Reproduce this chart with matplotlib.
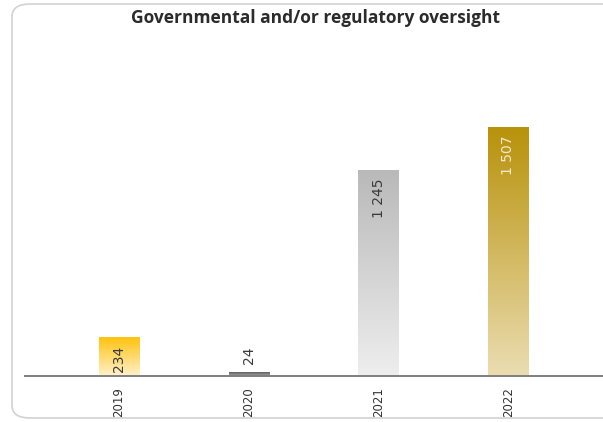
import numpy as np
import matplotlib.pyplot as plt
from matplotlib.colors import LinearSegmentedColormap
from matplotlib.patches import FancyBboxPatch

# =========================
# DATA
# =========================
TITLE = "Governmental and/or regulatory oversight"
years = ["2019", "2020", "2021", "2022"]
values = [234, 24, 1245, 1507]
value_labels = ["234", "24", "1 245", "1 507"]

# gradient colours per bar: (top, bottom)
grad_colors = [
    ("#FFC20E", "#FFF1CC"),
    ("#5E5E5E", "#A8A8A8"),
    ("#B9B9B9", "#EEEEEE"),
    ("#B8920A", "#EBDDB2"),
]
label_colors = ["#3A3A3A", "#3A3A3A", "#3A3A3A", "#F3EAD2"]

# =========================
# FIGURE
# =========================
fig = plt.figure(figsize=(6.03, 4.22), dpi=100)

# rounded card outline
card = FancyBboxPatch((12 / 603, 4 / 422), 1.2, 414 / 422,
                      boxstyle="round,pad=0,rounding_size=0.03",
                      transform=fig.transFigure, facecolor="none",
                      edgecolor="#D2D2D2", linewidth=1.2, zorder=0)
fig.patches.append(card)

fig.text(316 / 603, 1 - 18 / 422, TITLE, ha="center", va="center",
         fontsize=12.5, fontweight="bold", family="Open Sans", color="#2B2B2B")

ax = fig.add_axes([25 / 603, 46 / 422, 578 / 603, 336 / 422])
ax.patch.set_alpha(0)

x = np.arange(len(years))
width = 0.31
bars = ax.bar(x, values, width=width, color="none", edgecolor="none")

ymax = max(values) * 336 / 249
ax.set_ylim(0, ymax)
ax.set_xlim(-0.725, 3.73)

# fill each bar with a vertical gradient
for rect, (top, bottom) in zip(bars, grad_colors):
    cmap = LinearSegmentedColormap.from_list("g", [bottom, top])
    grad = np.linspace(0, 1, 256).reshape(-1, 1)
    x0, y0 = rect.get_x(), rect.get_y()
    ax.imshow(grad, cmap=cmap, origin="lower", aspect="auto",
              extent=[x0, x0 + rect.get_width(), y0, y0 + rect.get_height()],
              zorder=2)

# value labels (inside near the top, or above if the bar is too short)
for xi, v, lab, c in zip(x, values, value_labels, label_colors):
    if v > 150:
        ax.annotate(lab, (xi, v), xytext=(0, -6), textcoords="offset points",
                    ha="center", va="top", rotation=90, fontsize=10,
                    color=c, zorder=3)
    else:
        ax.annotate(lab, (xi, v), xytext=(0, 6), textcoords="offset points",
                    ha="center", va="bottom", rotation=90, fontsize=10,
                    color=c, zorder=3)

ax.set_xticks(x)
ax.set_xticklabels(years, rotation=90, fontsize=8.5, color="#333333")
ax.tick_params(axis="x", length=0, pad=8)
ax.set_yticks([])
for s in ["top", "right", "left"]:
    ax.spines[s].set_visible(False)
ax.spines["bottom"].set_color("#7F7F7F")
ax.spines["bottom"].set_linewidth(1.4)
ax.spines["bottom"].set_zorder(4)

fig.savefig("out.png", dpi=100)
